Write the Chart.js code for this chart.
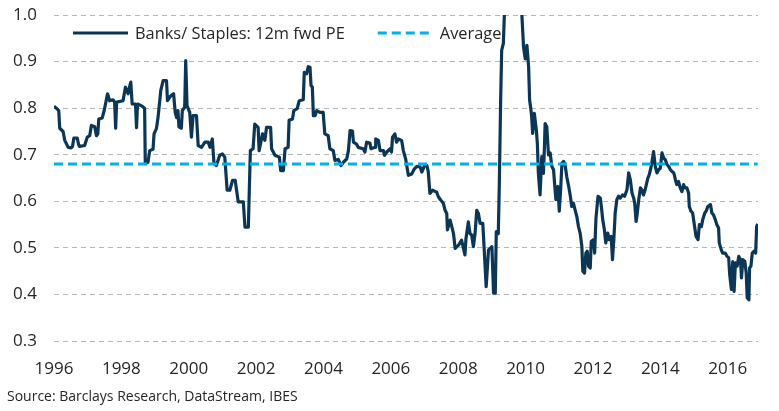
<!DOCTYPE html>
<html>
<head>
<meta charset="utf-8">
<title>Banks / Staples 12m fwd PE</title>
<script src="https://cdn.jsdelivr.net/npm/chart.js@4"></script>
<style>
  body { margin: 0; background: #ffffff; }
  .chart-box { width: 779px; height: 411px; }
</style>
</head>
<body>
<div class="chart-box"><canvas id="peChart"></canvas></div>
<script>
    // time axis (fractional years)
    const years = [
        1996.00, 1996.07, 1996.14, 1996.17, 1996.27, 1996.32, 1996.42, 1996.51, 1996.55, 1996.59,
        1996.69, 1996.73, 1996.76, 1996.91, 1996.99, 1997.06, 1997.11, 1997.21, 1997.26, 1997.30,
        1997.33, 1997.43, 1997.49, 1997.59, 1997.65, 1997.75, 1997.80, 1997.83, 1997.86, 1998.05,
        1998.12, 1998.20, 1998.24, 1998.28, 1998.32, 1998.42, 1998.45, 1998.48, 1998.60, 1998.69,
        1998.71, 1998.79, 1998.84, 1998.94, 1998.97, 1999.04, 1999.09, 1999.17, 1999.24, 1999.34,
        1999.37, 1999.46, 1999.55, 1999.60, 1999.64, 1999.68, 1999.71, 1999.78, 1999.81, 1999.88,
        1999.91, 1999.95, 2000.03, 2000.08, 2000.13, 2000.23, 2000.28, 2000.38, 2000.48, 2000.58,
        2000.63, 2000.70, 2000.75, 2000.82, 2000.92, 2001.00, 2001.07, 2001.14, 2001.22, 2001.30,
        2001.38, 2001.42, 2001.47, 2001.62, 2001.67, 2001.77, 2001.80, 2001.83, 2001.91, 2001.96,
        2002.06, 2002.09, 2002.19, 2002.26, 2002.31, 2002.43, 2002.46, 2002.56, 2002.69, 2002.73,
        2002.81, 2002.86, 2002.95, 2002.98, 2003.08, 2003.12, 2003.22, 2003.28, 2003.40, 2003.43,
        2003.50, 2003.55, 2003.60, 2003.63, 2003.67, 2003.70, 2003.75, 2003.80, 2003.90, 2003.99,
        2004.04, 2004.14, 2004.19, 2004.29, 2004.34, 2004.44, 2004.52, 2004.59, 2004.69, 2004.74,
        2004.79, 2004.86, 2004.89, 2004.98, 2005.03, 2005.18, 2005.23, 2005.28, 2005.38, 2005.41,
        2005.53, 2005.55, 2005.63, 2005.68, 2005.78, 2005.81, 2005.88, 2005.98, 2006.02, 2006.05,
        2006.12, 2006.17, 2006.22, 2006.32, 2006.37, 2006.44, 2006.52, 2006.62, 2006.70, 2006.77,
        2006.87, 2006.92, 2007.00, 2007.07, 2007.11, 2007.16, 2007.24, 2007.36, 2007.41, 2007.48,
        2007.56, 2007.61, 2007.66, 2007.68, 2007.76, 2007.81, 2007.86, 2007.91, 2008.01, 2008.10,
        2008.20, 2008.23, 2008.30, 2008.35, 2008.40, 2008.45, 2008.50, 2008.55, 2008.60, 2008.65,
        2008.73, 2008.77, 2008.83, 2008.90, 2008.95, 2009.00, 2009.05, 2009.10, 2009.13, 2009.19,
        2009.22, 2009.26, 2009.29, 2009.34, 2009.38, 2009.45, 2009.55, 2009.65, 2009.75, 2009.85,
        2009.89, 2009.94, 2009.99, 2010.04, 2010.09, 2010.12, 2010.16, 2010.18, 2010.21, 2010.26,
        2010.32, 2010.35, 2010.38, 2010.43, 2010.48, 2010.53, 2010.56, 2010.58, 2010.63, 2010.68,
        2010.73, 2010.78, 2010.83, 2010.86, 2010.90, 2010.96, 2011.00, 2011.04, 2011.08, 2011.13,
        2011.18, 2011.22, 2011.28, 2011.33, 2011.37, 2011.42, 2011.47, 2011.52, 2011.57, 2011.62,
        2011.67, 2011.70, 2011.75, 2011.79, 2011.83, 2011.87, 2011.92, 2011.95, 2012.02, 2012.05,
        2012.09, 2012.15, 2012.22, 2012.26, 2012.29, 2012.34, 2012.38, 2012.44, 2012.48, 2012.54,
        2012.58, 2012.62, 2012.66, 2012.71, 2012.76, 2012.81, 2012.88, 2012.94, 2013.01, 2013.06,
        2013.11, 2013.16, 2013.21, 2013.24, 2013.28, 2013.31, 2013.36, 2013.41, 2013.45, 2013.50,
        2013.55, 2013.63, 2013.67, 2013.73, 2013.80, 2013.85, 2013.90, 2013.95, 2014.00, 2014.05,
        2014.10, 2014.15, 2014.20, 2014.25, 2014.30, 2014.35, 2014.40, 2014.45, 2014.49, 2014.54,
        2014.59, 2014.64, 2014.69, 2014.74, 2014.79, 2014.84, 2014.86, 2014.91, 2014.96, 2015.01,
        2015.06, 2015.12, 2015.16, 2015.22, 2015.26, 2015.32, 2015.36, 2015.41, 2015.49, 2015.53,
        2015.58, 2015.63, 2015.68, 2015.73, 2015.75, 2015.81, 2015.85, 2015.93, 2015.98, 2016.03,
        2016.06, 2016.11, 2016.15, 2016.19, 2016.23, 2016.28, 2016.33, 2016.38, 2016.41, 2016.45,
        2016.51, 2016.55, 2016.58, 2016.63, 2016.65, 2016.69, 2016.73, 2016.78, 2016.83, 2016.86,
        2016.89
    ];

    // Banks / Staples relative 12m forward PE
    const peRatio = [
        0.804, 0.800, 0.795, 0.757, 0.750, 0.731, 0.716, 0.715, 0.718, 0.736,
        0.736, 0.722, 0.718, 0.720, 0.738, 0.741, 0.763, 0.760, 0.741, 0.745,
        0.777, 0.779, 0.795, 0.831, 0.816, 0.818, 0.813, 0.757, 0.813, 0.816,
        0.845, 0.831, 0.845, 0.856, 0.809, 0.809, 0.758, 0.809, 0.805, 0.800,
        0.681, 0.684, 0.709, 0.712, 0.745, 0.756, 0.781, 0.838, 0.859, 0.859,
        0.816, 0.826, 0.831, 0.790, 0.780, 0.795, 0.760, 0.757, 0.795, 0.802,
        0.902, 0.805, 0.791, 0.738, 0.784, 0.784, 0.720, 0.716, 0.727, 0.727,
        0.716, 0.734, 0.681, 0.677, 0.699, 0.702, 0.695, 0.624, 0.624, 0.645,
        0.645, 0.624, 0.599, 0.599, 0.545, 0.545, 0.630, 0.709, 0.713, 0.766,
        0.759, 0.709, 0.745, 0.731, 0.759, 0.759, 0.713, 0.699, 0.695, 0.666,
        0.666, 0.713, 0.716, 0.774, 0.777, 0.795, 0.799, 0.816, 0.818, 0.877,
        0.874, 0.889, 0.888, 0.849, 0.845, 0.784, 0.784, 0.795, 0.791, 0.791,
        0.745, 0.741, 0.713, 0.709, 0.688, 0.690, 0.677, 0.684, 0.691, 0.709,
        0.752, 0.751, 0.727, 0.723, 0.716, 0.713, 0.706, 0.727, 0.725, 0.713,
        0.716, 0.734, 0.731, 0.709, 0.709, 0.699, 0.706, 0.713, 0.706, 0.738,
        0.745, 0.727, 0.734, 0.731, 0.709, 0.691, 0.656, 0.659, 0.670, 0.675,
        0.674, 0.663, 0.677, 0.677, 0.664, 0.617, 0.624, 0.620, 0.610, 0.603,
        0.596, 0.581, 0.574, 0.539, 0.560, 0.546, 0.531, 0.499, 0.506, 0.517,
        0.485, 0.520, 0.556, 0.531, 0.528, 0.503, 0.531, 0.581, 0.574, 0.553,
        0.553, 0.499, 0.417, 0.496, 0.499, 0.503, 0.403, 0.403, 0.535, 0.531,
        0.635, 0.817, 0.924, 0.939, 1.020, 1.100, 1.160, 1.180, 1.120, 1.050,
        1.000, 0.931, 0.906, 0.935, 0.889, 0.817, 0.796, 0.782, 0.746, 0.789,
        0.753, 0.724, 0.660, 0.614, 0.696, 0.660, 0.717, 0.767, 0.760, 0.700,
        0.704, 0.675, 0.668, 0.639, 0.604, 0.632, 0.579, 0.625, 0.682, 0.686,
        0.675, 0.654, 0.632, 0.611, 0.589, 0.596, 0.582, 0.568, 0.546, 0.532,
        0.504, 0.450, 0.446, 0.489, 0.493, 0.461, 0.457, 0.514, 0.518, 0.489,
        0.564, 0.611, 0.607, 0.582, 0.561, 0.539, 0.511, 0.532, 0.518, 0.525,
        0.475, 0.518, 0.575, 0.604, 0.611, 0.607, 0.614, 0.611, 0.625, 0.661,
        0.646, 0.618, 0.607, 0.596, 0.557, 0.571, 0.604, 0.629, 0.625, 0.614,
        0.625, 0.650, 0.657, 0.675, 0.707, 0.675, 0.661, 0.668, 0.671, 0.704,
        0.693, 0.689, 0.679, 0.675, 0.668, 0.664, 0.661, 0.646, 0.636, 0.643,
        0.629, 0.621, 0.636, 0.629, 0.629, 0.618, 0.589, 0.579, 0.575, 0.550,
        0.525, 0.518, 0.550, 0.546, 0.561, 0.575, 0.579, 0.589, 0.593, 0.575,
        0.571, 0.561, 0.550, 0.543, 0.511, 0.496, 0.489, 0.489, 0.482, 0.479,
        0.443, 0.411, 0.471, 0.407, 0.468, 0.461, 0.482, 0.475, 0.436, 0.475,
        0.471, 0.446, 0.393, 0.389, 0.457, 0.461, 0.489, 0.493, 0.489, 0.546,
        0.552
    ];

    // long run average of the ratio
    const averagePE = 0.68;
    const seriesNames = ['Banks/ Staples: 12m fwd PE', 'Average'];
    const sourceNote = 'Source: Barclays Research, DataStream, IBES';

    const fontName = '"Open Sans", "Noto Sans", sans-serif';
    const textColor = '#262626';

    // build {x, y} points from the arrays
    const linePoints = years.map(function(yr, i) {
        return { x: yr, y: peRatio[i] };
    });
    const avgPoints = [
        { x: years[0], y: averagePE },
        { x: years[years.length - 1], y: averagePE }
    ];

    // legend drawn inside the plot area, like the original
    const insideLegend = {
        id: 'insideLegend',
        afterDraw: function(chart) {
            const ctx = chart.ctx;
            const area = chart.chartArea;
            let x = area.left + 19;
            const y = 33;
            ctx.save();
            ctx.font = '16.4px ' + fontName;
            ctx.textBaseline = 'middle';
            chart.data.datasets.forEach(function(ds) {
                ctx.beginPath();
                ctx.setLineDash(ds.borderDash || []);
                ctx.lineWidth = ds.borderWidth;
                ctx.strokeStyle = ds.borderColor;
                ctx.moveTo(x, y);
                ctx.lineTo(x + 55, y);
                ctx.stroke();
                ctx.setLineDash([]);
                ctx.fillStyle = textColor;
                ctx.fillText(ds.label, x + 62, y + 1);
                x += 62 + ctx.measureText(ds.label).width + 33;
            });
            ctx.restore();
        }
    };

    const config = {
        type: 'line',
        data: {
            datasets: [{
                label: seriesNames[0],
                data: linePoints,
                borderColor: '#0c3656',
                borderWidth: 3.2,
                pointRadius: 0,
                tension: 0,
                borderJoinStyle: 'round',
                order: 2
            }, {
                label: seriesNames[1],
                data: avgPoints,
                borderColor: '#00b0f0',
                borderWidth: 3,
                borderDash: [9, 5],
                pointRadius: 0,
                order: 1
            }]
        },
        options: {
            responsive: true,
            maintainAspectRatio: false,
            animation: false,
            layout: {
                padding: { left: 7, right: 21, top: 15, bottom: 0 }
            },
            plugins: {
                legend: { display: false },
                tooltip: { enabled: false },
                title: {
                    display: true,
                    text: sourceNote,
                    position: 'bottom',
                    align: 'start',
                    color: textColor,
                    font: { family: fontName, size: 14, weight: 'normal' },
                    padding: { top: 6, bottom: 6 }
                }
            },
            scales: {
                x: {
                    type: 'linear',
                    min: 1996,
                    max: 2016.9,
                    grid: { display: false },
                    border: { display: false },
                    ticks: {
                        stepSize: 2,
                        includeBounds: false,
                        maxRotation: 0,
                        autoSkip: false,
                        padding: 10,
                        color: textColor,
                        font: { family: fontName, size: 17 },
                        callback: function(v) { return String(v); }
                    },
                    afterFit: function(scale) { scale.height = 41; }
                },
                y: {
                    min: 0.3,
                    max: 1.0,
                    grid: { color: '#b8b8b8', lineWidth: 1, drawTicks: false },
                    border: { display: false, dash: [5, 4] },
                    ticks: {
                        stepSize: 0.1,
                        padding: 17,
                        color: textColor,
                        font: { family: fontName, size: 17 },
                        callback: function(v) { return Number(v).toFixed(1); }
                    },
                    afterFit: function(scale) {
                        // fixed axis width; drop the extra top/bottom room for labels
                        scale.width = 47;
                        scale.paddingTop = 0;
                        scale.paddingBottom = 0;
                    }
                }
            }
        },
        plugins: [insideLegend]
    };

    const peChart = new Chart(document.getElementById('peChart'), config);
</script>
</body>
</html>
